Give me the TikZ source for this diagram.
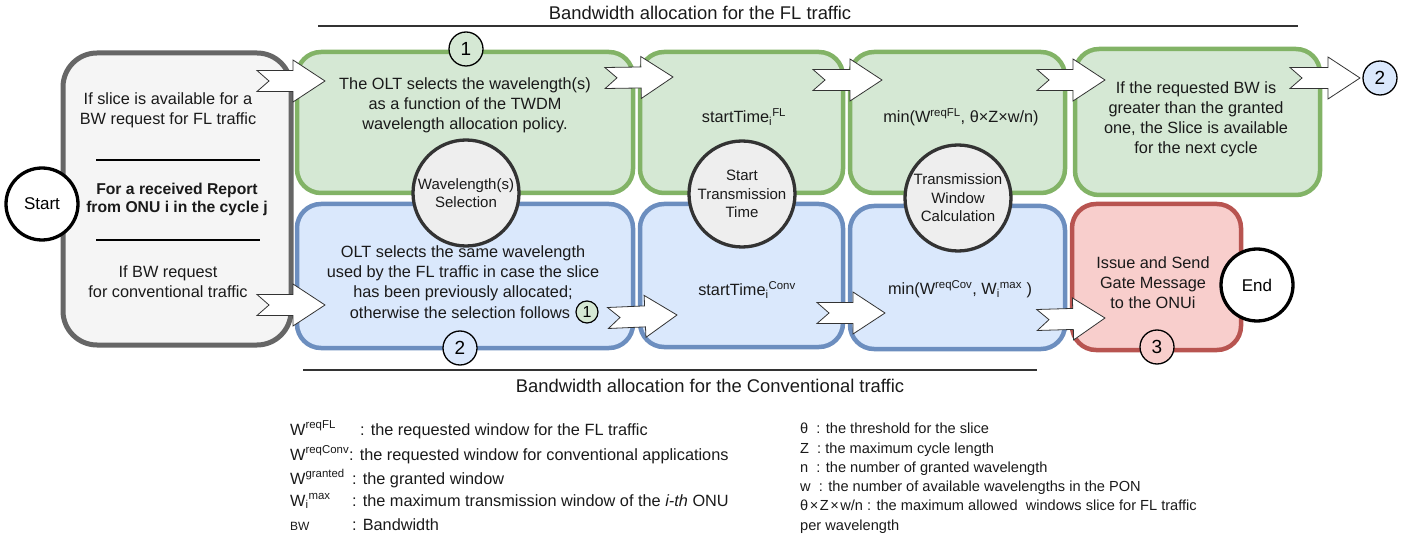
\documentclass[tikz,border=0pt]{standalone}
\usepackage{fontspec}
\setmainfont{Liberation Sans}
\usetikzlibrary{calc}
\definecolor{gfill}{HTML}{D5E8D4}\definecolor{gdraw}{HTML}{82B366}
\definecolor{bfill}{HTML}{DAE8FC}\definecolor{bdraw}{HTML}{6C8EBF}
\definecolor{rfill}{HTML}{F8CECC}\definecolor{rdraw}{HTML}{B85450}
\definecolor{kfill}{HTML}{F5F5F5}\definecolor{kdraw}{HTML}{666666}
\definecolor{cfill}{HTML}{EEEEEE}\definecolor{cdraw}{HTML}{333333}
\definecolor{tcol}{HTML}{1A1A1A}
\tikzset{
  box/.style={rectangle, rounded corners=24pt, line width=4.5pt, inner sep=0pt},
  gbox/.style={box, fill=gfill, draw=gdraw},
  bbox/.style={box, fill=bfill, draw=bdraw},
  rbox/.style={box, fill=rfill, draw=rdraw},
  kbox/.style={box, rounded corners=34pt, line width=5pt, fill=kfill, draw=kdraw},
  bigc/.style={circle, fill=cfill, draw=cdraw, line width=3.3pt, minimum size=106pt, inner sep=0pt, align=center, text=tcol, font=\fontsize{15}{18.5}\selectfont},
  endc/.style={circle, fill=white, draw=black, line width=3.3pt, minimum size=72pt, inner sep=0pt, font=\fontsize{17}{18}\selectfont},
  numc/.style={circle, draw=black, line width=1.3pt, minimum size=34pt, inner sep=0pt, font=\fontsize{19}{19}\selectfont},
  smallc/.style={circle, draw=black, line width=1.2pt, minimum size=22pt, inner sep=0pt, fill=gfill, font=\fontsize{16}{16}\selectfont},
  txt/.style={align=center, inner sep=0pt, text=tcol, font=\fontsize{16.3}{20}\selectfont},
  head/.style={inner sep=0pt, text=tcol, font=\fontsize{18.4}{20}\selectfont},
  leg/.style={anchor=base west, inner sep=0pt, text=tcol, font=\fontsize{16.3}{18}\selectfont},
  legr/.style={anchor=base west, inner sep=0pt, text=tcol, font=\fontsize{14.6}{18}\selectfont},
  rule/.style={draw=black, line width=1.5pt},
  hrule/.style={draw=cdraw, line width=2pt},
  blockarrow/.style={fill=white, draw=cdraw, line width=0.8pt, line join=miter},
}
\newcommand\flatarrow[2]{%
  \draw[blockarrow] ($(#1)!10.5pt!90:(#2)$)
    -- ($($(#2)!32pt!(#1)$)!10.5pt!90:(#2)$)
    -- ($($(#2)!32pt!(#1)$)!21pt!90:(#2)$)
    -- (#2)
    -- ($($(#2)!32pt!(#1)$)!21pt!-90:(#2)$)
    -- ($($(#2)!32pt!(#1)$)!10.5pt!-90:(#2)$)
    -- ($(#1)!10.5pt!-90:(#2)$)
    -- ($(#1)!12pt!(#2)$) -- cycle;}
\begin{document}
\begin{tikzpicture}[x=1pt, y=-1pt]
\useasboundingbox (0,0) rectangle (1419,537);

% boxes
\node[kbox, minimum width=228pt, minimum height=292pt] (gray) at (177,199) {};
\node[gbox, minimum width=336pt, minimum height=141pt] (g1) at (465,122.5) {};
\node[bbox, minimum width=336pt, minimum height=144pt] (b1) at (465,276) {};
\node[gbox, minimum width=203pt, minimum height=141pt] (g2) at (741.5,122.5) {};
\node[bbox, minimum width=203pt, minimum height=143pt] (b2) at (741.5,275.5) {};
\node[gbox, minimum width=215pt, minimum height=141pt] (g3) at (957.5,122.5) {};
\node[bbox, minimum width=215pt, minimum height=143pt] (b3) at (957.5,277.5) {};
\node[gbox, minimum width=245pt, minimum height=146pt] (g4) at (1197.5,122) {};
\node[rbox, minimum width=169pt, minimum height=146pt] (red) at (1156.5,277) {};

% header rules
\coordinate (tl1) at (318,26); \coordinate (tl2) at (1298,26);
\coordinate (bl1) at (303,370); \coordinate (bl2) at (1037,370);
\draw[hrule] (tl1) -- (tl2);
\draw[hrule] (bl1) -- (bl2);
\node[head] (htop) at (700,13) {Bandwidth allocation for the FL traffic};
\node[head] (hbot) at (710,386) {Bandwidth allocation for the Conventional traffic};

% gray box content
\node[txt] (k1) at (168,110) {If slice is available for a\\BW request for FL traffic};
\coordinate (r1a) at (96,160); \coordinate (r1b) at (260,160);
\draw[rule] (r1a) -- (r1b);
\node[txt, font=\fontsize{15.7}{18}\selectfont\bfseries] (k2) at (177,199) {For a received Report\\from ONU i in the cycle j};
\coordinate (r2a) at (96,240); \coordinate (r2b) at (260,240);
\draw[rule] (r2a) -- (r2b);
\node[txt] (k3) at (168,282) {If BW request\\for conventional traffic};

% box texts
\node[txt] (t1) at (465,105) {The OLT selects the wavelength(s)\\as a function of the TWDM\\wavelength allocation policy.};
\node[txt] (t2) at (463,273) {OLT selects the same wavelength\\used by the FL traffic in case the slice\\has been previously allocated;};
\node[txt] (t2b) at (460,313) {otherwise the selection follows};
\node[txt] (t3) at (744,117) {startTime\textsubscript{i}\textsuperscript{FL}};
\node[txt] (t4) at (961,117) {min(W\textsuperscript{reqFL}, θ×Z×w/n)};
\node[txt] (t5) at (747,290) {startTime\textsubscript{i}\textsuperscript{Conv}};
\node[txt] (t6) at (960,289) {min(W\textsuperscript{reqCov}, W\textsubscript{i}\textsuperscript{max} )};
\node[txt] (t7) at (1196,119) {If the requested BW is\\greater than the granted\\one, the Slice is available\\for the next cycle};
\node[txt] (t8) at (1153,283) {Issue and Send\\Gate Message\\to the ONUi};

% arrows
\coordinate (a1s) at (257,81);  \coordinate (a1e) at (325,81);
\coordinate (a2s) at (257,305); \coordinate (a2e) at (325,305);
\coordinate (a3s) at (605,78);  \coordinate (a3e) at (673,77);
\coordinate (a4s) at (813,80);  \coordinate (a4e) at (882,80);
\coordinate (a5s) at (1037,80); \coordinate (a5e) at (1105,80);
\coordinate (a6s) at (1290,78); \coordinate (a6e) at (1360,78);
\coordinate (a7s) at (608,318); \coordinate (a7e) at (677,315);
\coordinate (a8s) at (817,313); \coordinate (a8e) at (885,313);
\coordinate (a9s) at (1037,320); \coordinate (a9e) at (1105,318);
\flatarrow{a1s}{a1e}
\flatarrow{a2s}{a2e}
\flatarrow{a3s}{a3e}
\flatarrow{a4s}{a4e}
\flatarrow{a5s}{a5e}
\flatarrow{a6s}{a6e}
\flatarrow{a7s}{a7e}
\flatarrow{a8s}{a8e}
\flatarrow{a9s}{a9e}

% circles
\node[endc] (start) at (42,204) {Start};
\node[endc] (end) at (1257,285) {End};
\node[bigc] (c1) at (466,193) {Wavelength(s)\\Selection};
\node[bigc] (c2) at (742,194) {Start\\Transmission\\Time};
\node[bigc] (c3) at (958,198) {Transmission\\Window\\Calculation};
\node[numc, fill=gfill] (n1) at (466,49) {1};
\node[numc, fill=bfill] (n2) at (460,348) {2};
\node[numc, fill=bfill] (n2r) at (1380,78) {2};
\node[numc, fill=rfill] (n3) at (1157,347) {3};
\node[smallc] (n1s) at (587,312) {1};

% legend left
\node[leg] (l1a) at (290,435) {W\textsuperscript{reqFL}};
\node[leg] (l1b) at (360,435) {: the requested window for the FL traffic};
\node[leg] (l2a) at (290,460) {W\textsuperscript{reqConv}: the requested window for conventional applications};
\node[leg] (l3a) at (290,484) {W\textsuperscript{granted}};
\node[leg] (l3b) at (352,484) {: the granted window};
\node[leg] (l4a) at (290,506) {W\textsubscript{i}\textsuperscript{max}};
\node[leg] (l4b) at (352,506) {: the maximum transmission window of the \textit{i-th} ONU};
\node[leg, font=\fontsize{12}{14}\selectfont] (l5a) at (290,530) {BW};
\node[leg] (l5b) at (352,530) {: Bandwidth};

% legend right
\node[legr] (m1) at (800,433) {θ\ \ : the threshold for the slice};
\node[legr] (m2) at (800,453) {Z\ \ : the maximum cycle length};
\node[legr] (m3) at (800,472) {n\ \ : the number of granted wavelength};
\node[legr] (m4) at (800,491) {w\ \ : the number of available wavelengths in the PON};
\node[legr] (m5) at (800,510) {θ\hspace{1.5pt}×\hspace{1.5pt}Z\hspace{1.5pt}×\hspace{1.5pt}w/n : the maximum allowed\ \ windows slice for FL traffic};
\node[legr] (m6) at (800,530) {per wavelength};
\end{tikzpicture}
\end{document}
